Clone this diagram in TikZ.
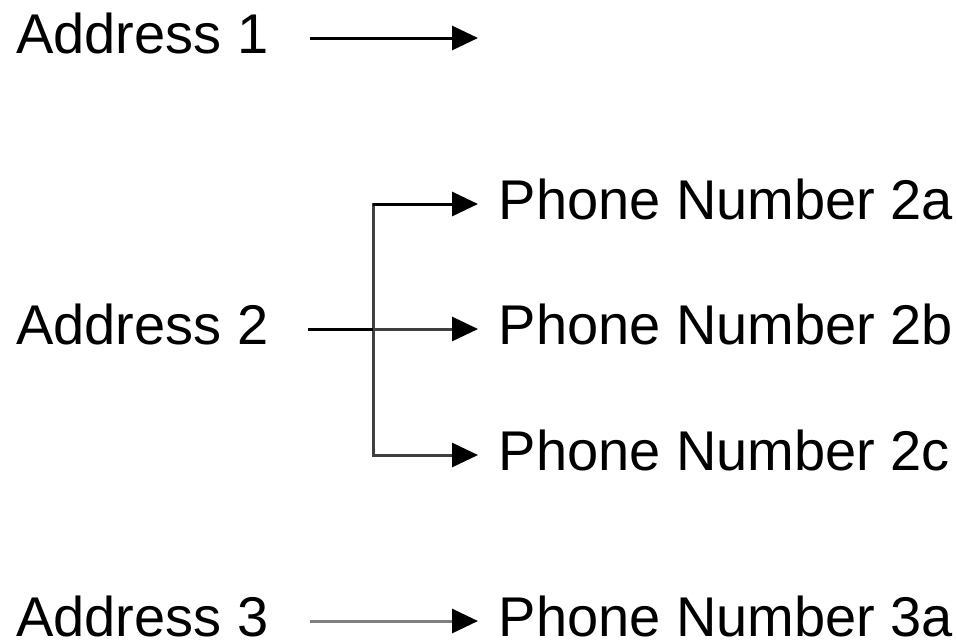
\documentclass[tikz,border=0pt]{standalone}
\usepackage{fontspec}
\setmainfont{Liberation Sans}
\usetikzlibrary{arrows.meta}
\definecolor{dk}{HTML}{404040}
\definecolor{md}{HTML}{808080}
\begin{document}
\begin{tikzpicture}[x=1pt,y=-1pt,
  lbl/.style={inner sep=0pt, anchor=base west, font=\fontsize{56}{62}\selectfont},
  seg/.style={line width=3pt},
  conn/.style={line width=3pt, -{Triangle[length=26pt,width=24pt,color=black]}},
  toP/.style={conn, shorten >=20.5pt}]
\useasboundingbox (0,0) rectangle (957,643);
% labels
\node[lbl] (a1) at (16,53) {Address 1};
\node[lbl] (a2) at (16,344) {Address 2};
\node[lbl] (a3) at (16,636) {Address 3};
\node[lbl] (p2a) at (498.5,219) {Phone Number 2a};
\node[lbl] (p2b) at (498.5,344) {Phone Number 2b};
\node[lbl] (p2c) at (498.5,470) {Phone Number 2c};
\node[lbl] (p3a) at (498.5,636) {Phone Number 3a};
% coordinates
\coordinate (s1) at (310,38);
\coordinate (e1) at (478,38);
\coordinate (s2) at (308,329);
\coordinate (j)  at (373,329);
\coordinate (s3) at (310,621);
% connectors
\draw[conn] (s1) -- (e1);
\draw[seg, dk, line cap=rect] ([yshift=15pt]j |- p2a.base) -- ([yshift=15pt]j |- p2c.base);
\draw[toP, black] ([yshift=15pt]j |- p2a.base) -- ([yshift=15pt]p2a.base west);
\draw[toP, dk] (j) -- ([yshift=15pt]p2b.base west);
\draw[toP, dk] ([yshift=15pt]j |- p2c.base) -- ([yshift=15pt]p2c.base west);
\draw[seg, black] (s2) -- (j);
\draw[toP, md] (s3) -- ([yshift=15pt]p3a.base west);
\end{tikzpicture}
\end{document}
